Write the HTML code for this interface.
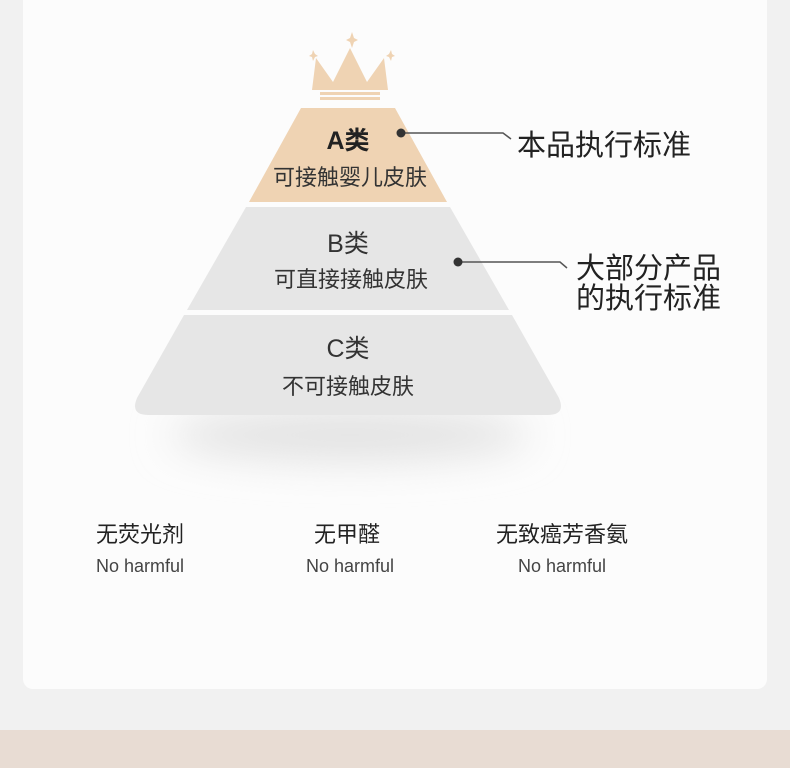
<!DOCTYPE html>
<html><head><meta charset="utf-8"><style>
body{margin:0;width:790px;height:768px;background:#f1f1f1;overflow:hidden;position:relative;font-family:"Liberation Sans","Noto Sans CJK SC",sans-serif}
.card{position:absolute;left:23px;top:-10px;width:744px;height:699px;background:#fcfcfc;border-radius:10px}
.band{position:absolute;left:0;top:730px;width:790px;height:38px;background:#e8dcd3}
</style></head><body>
<div class="card"></div>
<div class="band"></div>
<svg width="790" height="768" style="position:absolute;left:0;top:0" font-family="Liberation Sans, Noto Sans CJK SC, sans-serif">
<defs><filter id="b" x="-50%" y="-150%" width="200%" height="400%"><feGaussianBlur stdDeviation="20"/></filter></defs>
<ellipse cx="350" cy="435" rx="180" ry="26" fill="#e2e2e2" filter="url(#b)"/>
<g fill="#efd3b3">
<polygon points="316,58 333,82 350,48 367,82 384,58 388,90 312,90"/>
<rect x="320" y="92" width="60" height="3"/>
<rect x="320" y="97" width="60" height="3"/>
<path d="M352,32 l2,6 l4,2 l-4,2 l-2,6 l-2,-6 l-4,-2 l4,-2z"/>
<path d="M313,50 l2,4 l3,2 l-3,1 l-2,4 l-1,-4 l-3,-1 l3,-2z"/>
<path d="M391,50 l1,4 l3,2 l-3,1 l-1,4 l-2,-4 l-3,-1 l3,-2z"/>
</g>
<polygon points="301,108 395,108 447,202 249,202" fill="#efd3b3"/>
<polygon points="246,207 450,207 509,310 187,310" fill="#e6e6e6"/>
<path d="M184,315 L512,315 L559,398 Q566,415 548,415 L148,415 Q130,415 137,398 Z" fill="#e6e6e6"/>
<g text-anchor="middle" fill="#222">
<text x="348" y="149" font-size="25" font-weight="bold">A类</text>
<text x="350" y="185" font-size="22" fill="#333">可接触婴儿皮肤</text>
<text x="348" y="252" font-size="25" fill="#333">B类</text>
<text x="351" y="287" font-size="22" fill="#333">可直接接触皮肤</text>
<text x="348" y="357" font-size="25" fill="#333">C类</text>
<text x="348" y="394" font-size="22" fill="#333">不可接触皮肤</text>
</g>
<g stroke="#555" stroke-width="1.5" fill="none">
<polyline points="401,133 503,133 511,139"/>
<polyline points="458,262 560,262 567,268"/>
</g>
<circle cx="401" cy="133" r="4.5" fill="#333"/>
<circle cx="458" cy="262" r="4.5" fill="#333"/>
<g fill="#222" font-size="29">
<text x="517" y="155">本品执行标准</text>
<text x="576" y="278">大部分产品</text>
<text x="576" y="308">的执行标准</text>
</g>
<g text-anchor="middle">
<text x="140" y="542" font-size="22" fill="#222">无荧光剂</text>
<text x="347" y="542" font-size="22" fill="#222">无甲醛</text>
<text x="562" y="542" font-size="22" fill="#222">无致癌芳香氨</text>
<text x="140" y="572" font-size="18" fill="#444">No harmful</text>
<text x="350" y="572" font-size="18" fill="#444">No harmful</text>
<text x="562" y="572" font-size="18" fill="#444">No harmful</text>
</g>
</svg>
</body></html>
